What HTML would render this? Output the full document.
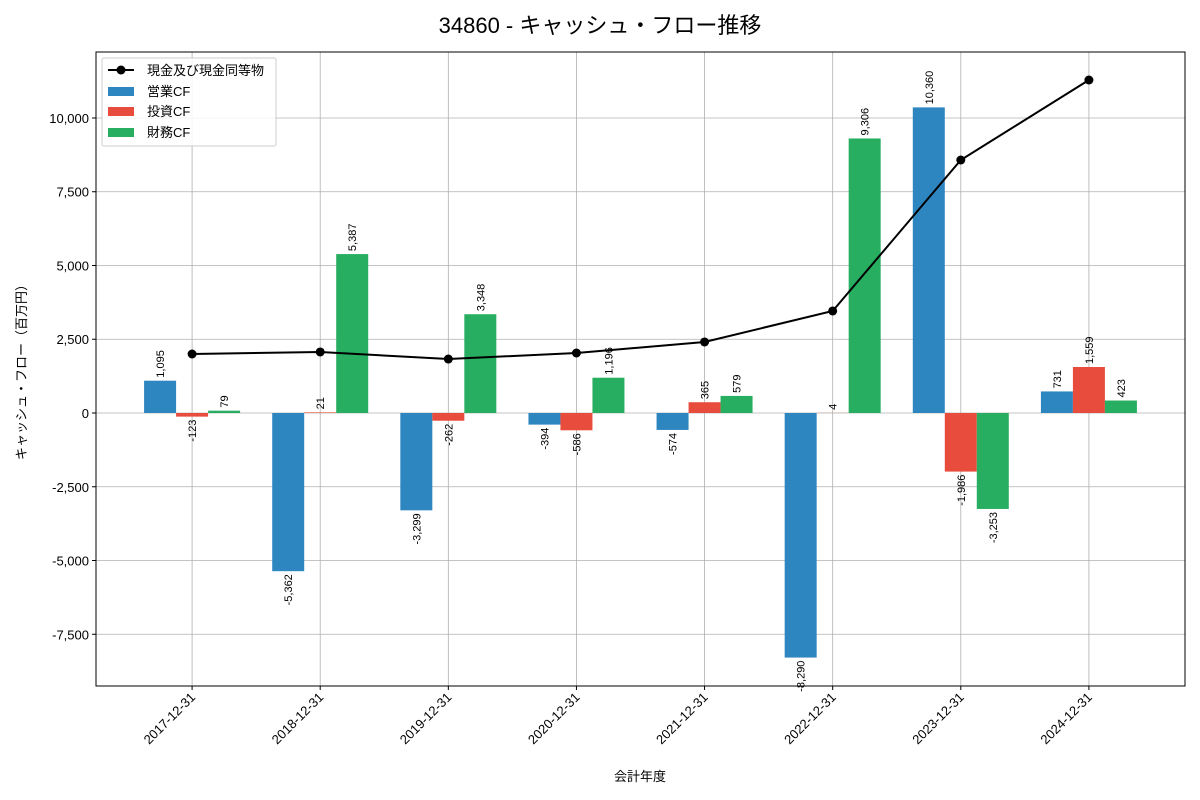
<!DOCTYPE html>
<html><head><meta charset="utf-8">
<style>
body{margin:0;background:#fff;}
svg{display:block;font-family:"Liberation Sans","Noto Sans CJK JP",sans-serif;}
</style></head>
<body>
<svg id="chart" width="1200" height="800" viewBox="0 0 1200 800" xmlns="http://www.w3.org/2000/svg">
<text x="600" y="33" text-anchor="middle" font-size="22">34860 - キャッシュ・フロー推移</text>
<g id="grid"></g>
<g id="bars"></g>
<g id="line"></g>
<g id="labels"></g>
<rect x="96" y="52" width="1089" height="634" fill="none" stroke="#000" stroke-width="1"/>
<g id="axes"></g>
<text transform="translate(26,369) rotate(-90)" text-anchor="middle" font-size="13">キャッシュ・フロー（百万円）</text>
<text x="640" y="781" text-anchor="middle" font-size="13">会計年度</text>
<g>
<rect x="102" y="58" width="174" height="88" fill="#fff" fill-opacity="0.85" stroke="#ccc" rx="2"/>
<line x1="108" y1="70" x2="134" y2="70" stroke="#000" stroke-width="2"/>
<circle cx="121" cy="70" r="4.5" fill="#000"/>
<text x="147" y="75" font-size="13">現金及び現金同等物</text>
<rect x="108" y="87" width="26" height="9" fill="#2e86c1"/>
<text x="147" y="96" font-size="13">営業CF</text>
<rect x="108" y="107" width="26" height="9" fill="#e74c3c"/>
<text x="147" y="116" font-size="13">投資CF</text>
<rect x="108" y="128" width="26" height="9" fill="#27ae60"/>
<text x="147" y="137" font-size="13">財務CF</text>
</g>
</svg>
<script>
const categories=["2017-12-31","2018-12-31","2019-12-31","2020-12-31","2021-12-31","2022-12-31","2023-12-31","2024-12-31"];
const operatingCF=[1095,-5362,-3299,-394,-574,-8290,10360,731];
const investingCF=[-123,21,-262,-586,365,4,-1986,1559];
const financingCF=[79,5387,3348,1196,579,9306,-3253,423];
const cashEq=[2000,2068,1830,2034,2407,3458,8576,11288];
const yTicks=[-7500,-5000,-2500,0,2500,5000,7500,10000];

const NS="http://www.w3.org/2000/svg";
const L=96,R=1185,T=52,B=686,yMin=-9254,yMax=12237;
const xs=i=>L+(i+0.75)/8.5*(R-L);
const ys=v=>B-(v-yMin)/(yMax-yMin)*(B-T);
const bw=32;
function mk(tag,attrs,parent){const e=document.createElementNS(NS,tag);for(const k in attrs)e.setAttribute(k,attrs[k]);parent.appendChild(e);return e;}
const fmt=v=>v.toLocaleString("en-US");
const grid=document.getElementById("grid"),axes=document.getElementById("axes");
yTicks.forEach(t=>{
  const y=ys(t);
  const g=mk("line",{x1:L,x2:R,y1:y,y2:y,stroke:"#b0b0b0","stroke-width":0.8},grid);
  
  
  mk("line",{x1:L-4,x2:L,y1:y,y2:y,stroke:"#000"},axes);
  const tx=mk("text",{x:L-7,y:y+5,"text-anchor":"end","font-size":13},axes);
  tx.textContent=fmt(t);
  
  
});
categories.forEach((c,i)=>{
  const x=xs(i);
  const g=mk("line",{x1:x,x2:x,y1:T,y2:B,stroke:"#b0b0b0","stroke-width":0.8},grid);
  
  
  mk("line",{x1:x,x2:x,y1:B,y2:B+4,stroke:"#000"},axes);
  const tx=mk("text",{transform:`translate(${x+4},${B+12}) rotate(-45)`,"text-anchor":"end","font-size":13},axes);
  tx.textContent=c;
  
  
});
const series=[[operatingCF,"#2e86c1",-1,"operating-cf-bar"],[investingCF,"#e74c3c",0,"investing-cf-bar"],[financingCF,"#27ae60",1,"financing-cf-bar"]];
const bars=document.getElementById("bars"),labels=document.getElementById("labels");
series.forEach(([vals,col,off,name])=>{
  vals.forEach((v,i)=>{
    const cx=xs(i)+off*bw;
    const y0=ys(0),y1=ys(v);
    const r=mk("rect",{x:cx-bw/2,y:Math.min(y0,y1),width:bw,height:Math.abs(y1-y0),fill:col},bars);
    
    
    let t;
    if(v>=0){t=mk("text",{transform:`translate(${cx+4},${y1-3}) rotate(-90)`,"text-anchor":"start","font-size":11},labels);}
    else{t=mk("text",{transform:`translate(${cx+4},${y1+3}) rotate(-90)`,"text-anchor":"end","font-size":11},labels);}
    t.textContent=fmt(v);
    
    
  });
});
const line=document.getElementById("line");
const p=mk("polyline",{points:cashEq.map((v,i)=>xs(i)+","+ys(v)).join(" "),fill:"none",stroke:"#000","stroke-width":2},line);


cashEq.forEach((v,i)=>{
  const c=mk("circle",{cx:xs(i),cy:ys(v),r:4.5,fill:"#000"},line);
  
  
});
</script>
</body></html>
